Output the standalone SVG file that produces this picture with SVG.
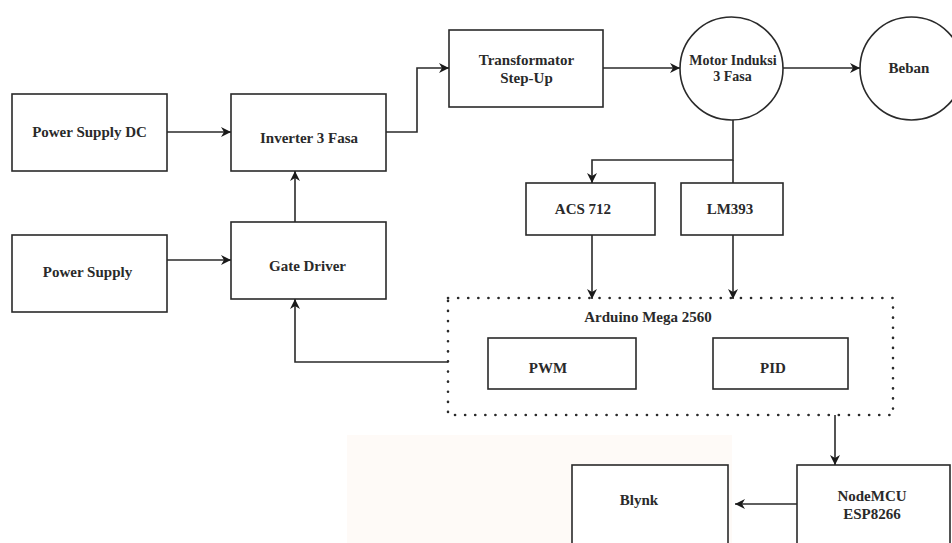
<svg xmlns="http://www.w3.org/2000/svg" width="952" height="543" viewBox="0 0 952 543">
  <defs>
    <marker id="arrow" viewBox="0 0 10 10" refX="10" refY="5" markerWidth="11" markerHeight="10" markerUnits="userSpaceOnUse" orient="auto">
      <path d="M0,0 L10,5 L0,10 L3,5 Z" fill="#1a1a1a"/>
    </marker>
  </defs>
  <style>
    .box { fill: #ffffff; stroke: #2a2a2a; stroke-width: 1.6; }
    .dotted { fill: none; stroke: #2a2a2a; stroke-width: 2.6; stroke-dasharray: 0.1 10; stroke-linecap: round; }
    .conn { fill: none; stroke: #2a2a2a; stroke-width: 1.6; }
    .arr { marker-end: url(#arrow); }
    text { font-family: "Liberation Serif", "Times New Roman", serif; font-weight: bold; font-size: 15px; fill: #2a2a2a; text-anchor: middle; }
    .small { font-size: 14px; }
  </style>
  <rect x="0" y="0" width="952" height="543" fill="#ffffff"/>
  <rect x="347" y="435" width="385" height="108" fill="#fefaf7"/>

  <g id="power-supply-dc">
    <rect class="box" x="12" y="94" width="155" height="77"/>
    <text x="89.5" y="137">Power Supply DC</text>
  </g>
  <g id="inverter">
    <rect class="box" x="231" y="94" width="155" height="77"/>
    <text x="309" y="143">Inverter 3 Fasa</text>
  </g>
  <g id="transformator">
    <rect class="box" x="449" y="30" width="154" height="77"/>
    <text x="526.5" y="65">Transformator</text>
    <text x="526.5" y="83">Step-Up</text>
  </g>
  <g id="motor">
    <circle class="box" cx="731.5" cy="68.5" r="51.5"/>
    <text class="small" x="733" y="65">Motor Induksi</text>
    <text class="small" x="732.5" y="81">3 Fasa</text>
  </g>
  <g id="beban">
    <circle class="box" cx="911.5" cy="68.5" r="51.5"/>
    <text x="909" y="73">Beban</text>
  </g>
  <g id="power-supply">
    <rect class="box" x="12" y="235" width="155" height="77"/>
    <text x="87.5" y="277">Power Supply</text>
  </g>
  <g id="gate-driver">
    <rect class="box" x="231" y="222" width="155" height="77"/>
    <text x="307.5" y="271">Gate Driver</text>
  </g>
  <g id="acs712">
    <rect class="box" x="526" y="183" width="129" height="52"/>
    <text x="583" y="214">ACS 712</text>
  </g>
  <g id="lm393">
    <rect class="box" x="681" y="183" width="102" height="52"/>
    <text x="730" y="214">LM393</text>
  </g>
  <g id="arduino">
    <rect class="dotted" x="448" y="298" width="445" height="117"/>
    <text x="648" y="322">Arduino Mega 2560</text>
  </g>
  <g id="pwm">
    <rect class="box" x="488" y="338" width="148" height="51"/>
    <text x="548" y="373">PWM</text>
  </g>
  <g id="pid">
    <rect class="box" x="713" y="338" width="135" height="51"/>
    <text x="773" y="373">PID</text>
  </g>
  <g id="blynk">
    <rect class="box" x="572" y="465" width="156" height="90"/>
    <text x="639" y="505">Blynk</text>
  </g>
  <g id="nodemcu">
    <rect class="box" x="797" y="465" width="153" height="90"/>
    <text x="872" y="501">NodeMCU</text>
    <text x="872" y="519">ESP8266</text>
  </g>

  <g id="connectors">
    <path class="conn arr" d="M167,132 H231"/>
    <path class="conn arr" d="M386,132 H417 V68 H449"/>
    <path class="conn arr" d="M603,68 H680"/>
    <path class="conn arr" d="M783,68 H860"/>
    <path class="conn arr" d="M167,260 H231"/>
    <path class="conn arr" d="M295,222 V171"/>
    <path class="conn arr" d="M733,120 V160 H592 V183"/>
    <path class="conn" d="M733,160 V183"/>
    <path class="conn arr" d="M592,235 V299"/>
    <path class="conn arr" d="M733,235 V299"/>
    <path class="conn arr" d="M448,362 H295 V299"/>
    <path class="conn arr" d="M835,415 V465"/>
    <path class="conn arr" d="M797,504 H735"/>
  </g>
</svg>
